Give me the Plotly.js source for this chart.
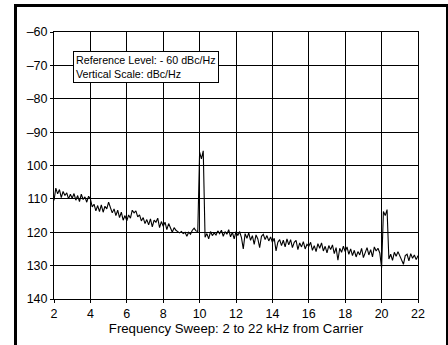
<!DOCTYPE html>
<html>
<head>
<meta charset="utf-8">
<script src="https://cdn.plot.ly/plotly-3.0.1.min.js"></script>
<style>
  html, body { margin: 0; padding: 0; background: #fff; }
  #wrap { position: relative; width: 448px; height: 345px; overflow: hidden; }
  #chart { position: absolute; left: 0; top: 0; width: 448px; height: 345px; }
  #frame { position: absolute; left: 14px; top: 4px; width: 429px; height: 400px;
           border: 3px solid #000; border-bottom: none; pointer-events: none; }
</style>
</head>
<body>
<div id="wrap">
  <div id="chart"></div>
  <div id="frame"></div>
</div>
<script>
// Frequency sweep start / step (kHz from carrier)
const freqStart = 2.0;
const freqStep = 0.1;

// Measured noise level, dBc/Hz (one value per 0.1 kHz step, 2.0 .. 22.0)
const levelDbcHz = [
  // 2.0 - 4.0
  -110.5, -106.8, -108.5, -107.2, -109.6, -107.8, -109.0, -108.2, -110.0, -108.6, -109.8, -108.4, -110.4, -109.0, -110.8, -108.6, -110.2, -109.4, -111.0, -109.2, -110.0,
  // 4.1 - 6.0
  -112.4, -111.6, -113.6, -112.0, -113.8, -111.8, -114.0, -112.2, -113.0, -111.0, -112.8, -114.2, -113.0, -115.0, -113.4, -115.6, -114.0, -116.4, -115.0, -116.6,
  // 6.1 - 8.0
  -114.8, -115.8, -113.4, -114.2, -113.6, -115.4, -114.8, -116.6, -115.6, -117.4, -116.2, -117.8, -116.0, -118.4, -116.4, -117.0, -115.8, -118.6, -116.8, -118.2,
  // 8.1 - 9.9
  -117.0, -119.2, -117.4, -118.8, -120.0, -118.6, -119.4, -119.8, -120.2, -119.8, -120.4, -120.0, -121.2, -120.0, -120.6, -119.4, -118.8, -119.6, -119.8,
  // 10.0 - 10.3 (spur)
  -96.0, -98.0, -95.6, -121.5,
  // 10.4 - 12.0
  -120.4, -122.0, -119.8, -121.0, -120.2, -120.8, -119.6, -120.4, -119.4, -121.2, -119.8, -120.6, -119.2, -121.4, -120.0, -122.0, -119.8,
  // 12.1 - 14.0
  -121.0, -119.8, -121.6, -125.0, -120.4, -121.8, -120.2, -122.4, -121.0, -123.6, -120.8, -122.0, -124.6, -121.2, -120.6, -122.2, -121.0, -122.6, -121.4, -123.0,
  // 14.1 - 16.0
  -121.8, -125.6, -123.0, -122.2, -124.0, -122.4, -124.4, -122.0, -123.8, -122.2, -124.6, -123.0, -122.4, -125.2, -123.2, -124.4, -122.8, -125.0, -123.6, -124.2,
  // 16.1 - 18.0
  -123.0, -125.4, -124.0, -125.8, -123.4, -124.8, -123.2, -125.6, -124.2, -126.2, -124.0, -125.2, -123.8, -126.4, -124.6, -128.4, -124.8, -126.0, -124.2, -125.8,
  // 18.1 - 20.0
  -124.4, -126.6, -125.0, -127.0, -125.4, -127.4, -125.8, -126.8, -124.8, -127.6, -126.0, -124.6, -126.8, -125.2, -127.4, -124.4, -125.6, -124.8, -126.2, -130.6,
  // 20.1 - 20.4 (spur)
  -113.8, -115.0, -113.2, -128.0,
  // 20.5 - 22.0
  -126.6, -128.4, -126.0, -127.2, -125.8, -127.0, -128.2, -129.6, -127.0, -126.6, -128.6, -126.4, -127.8, -126.8, -128.2, -127.0
];

const xTickVals = [2, 4, 6, 8, 10, 12, 14, 16, 18, 20, 22];
const yTickVals = [-60, -70, -80, -90, -100, -110, -120, -130, -140];
const yTickText = ['\u201360', '\u201370', '\u201380', '\u201390', '100', '110', '120', '130', '140'];
const xTitle = 'Frequency Sweep: 2 to 22 kHz from Carrier';
const noteText = 'Reference Level: - 60 dBc/Hz<br>Vertical Scale: dBc/Hz';

const font = 'Liberation Sans, Arial, Helvetica, sans-serif';

const trace = {
  type: 'scatter',
  mode: 'lines',
  x0: freqStart,
  dx: freqStep,
  y: levelDbcHz,
  line: { color: '#000', width: 1.1 },
  hoverinfo: 'skip'
};

const axisCommon = {
  showgrid: true,
  gridcolor: '#000',
  gridwidth: 1,
  showline: true,
  linecolor: '#000',
  linewidth: 1,
  mirror: true,
  zeroline: false,
  ticks: 'outside',
  ticklen: 3,
  tickcolor: '#000',
  tickfont: { family: font, size: 12.5, color: '#000' },
  fixedrange: true
};

const layout = {
  width: 448,
  height: 345,
  margin: { l: 54, r: 30, t: 32, b: 46 },
  paper_bgcolor: '#fff',
  plot_bgcolor: '#fff',
  showlegend: false,
  xaxis: Object.assign({}, axisCommon, {
    range: [2, 22],
    tickmode: 'array',
    tickvals: xTickVals,
    ticktext: xTickVals.map(String),
    title: { text: xTitle, font: { family: font, size: 13.2, color: '#000' }, standoff: 1 }
  }),
  yaxis: Object.assign({}, axisCommon, {
    range: [-140, -60],
    tickmode: 'array',
    tickvals: yTickVals,
    ticktext: yTickText
  }),
  annotations: [{
    xref: 'paper', yref: 'paper',
    x: 0.052, y: 0.929,
    xanchor: 'left', yanchor: 'top',
    text: noteText,
    align: 'left',
    showarrow: false,
    font: { family: font, size: 10.7, color: '#000' },
    bgcolor: '#fff',
    bordercolor: '#000',
    borderwidth: 1,
    borderpad: 2
  }]
};

Plotly.newPlot('chart', [trace], layout, { displayModeBar: false, staticPlot: true });
</script>
</body>
</html>
